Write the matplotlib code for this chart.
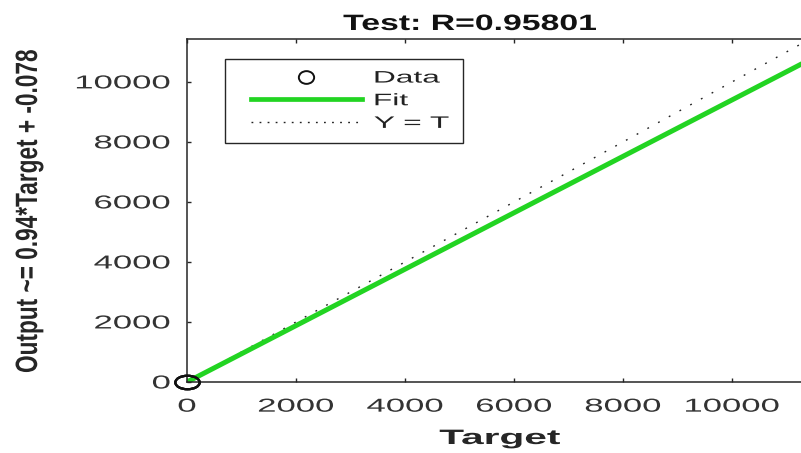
import matplotlib
matplotlib.use("Agg")
import numpy as np
import matplotlib.pyplot as plt
from matplotlib.patheffects import AbstractPathEffect
from matplotlib.transforms import Affine2D
from matplotlib.path import Path
from matplotlib.lines import Line2D
from matplotlib.legend_handler import HandlerLine2D

# chart values
title = "Test: R=0.95801"
slope = 0.94
intercept = -0.078
target = [0.0, 4.0, 9.0]
output = [0.0, 3.5, 8.0]
line_x = [0.0, 11430.0]
ticks = [0, 2000, 4000, 6000, 8000, 10000]
axis_max = 11430
labels = ["Data", "Fit", "Y = T"]


class Stretch(AbstractPathEffect):
    """Widen glyphs of a text (the reference image is stretched sideways)."""

    def __init__(self, sx=1.0, sy=1.0, anchor="center"):
        super().__init__()
        self.sx, self.sy, self.anchor = sx, sy, anchor

    def draw_path(self, renderer, gc, tpath, affine, rgbFace=None):
        if len(tpath.vertices) == 0:
            return
        ext = tpath.get_extents()
        px = {"left": ext.x0, "center": (ext.x0 + ext.x1) / 2, "right": ext.x1}[self.anchor]
        py = (ext.y0 + ext.y1) / 2
        t = Affine2D().translate(-px, -py).scale(self.sx, self.sy).translate(px, py)
        renderer.draw_path(gc, tpath, t + affine, rgbFace)


plt.rcParams["font.family"] = ["Liberation Sans", "DejaVu Sans"]
W, H = 801, 453
fig = plt.figure(figsize=(W / 100, H / 100), dpi=100)
ax = fig.add_axes([187 / W, (H - 382) / H, 623 / W, 343 / H])

fit_y = [slope * x + intercept for x in line_x]

ell = Path.unit_circle()
data_marker = Path(ell.vertices * [1.8, 1.0], ell.codes)
legend_marker = Path(ell.vertices * [1.2, 1.0], ell.codes)

green = "#22d422"
ax.plot(line_x, line_x, color="#222222", lw=1.0, ls=(0, (1.3, 7.5)))
ax.plot(line_x, fit_y, color=green, lw=3.6, solid_capstyle="butt")
ax.plot(target, output, ls="none", marker=data_marker, ms=17.5,
        mfc="none", mec="#111111", mew=1.6, clip_on=False, zorder=5)

ax.set_xlim(0, axis_max)
ax.set_ylim(0, axis_max)
ax.set_xticks(ticks)
ax.set_yticks(ticks)
ax.tick_params(direction="in", length=3, width=1, top=True, right=True,
               labelsize=13.5, pad=12, labelcolor="#333333", color="#262626")
for s in ax.spines.values():
    s.set_color("#262626")
    s.set_linewidth(1.1)

for lab in ax.get_xticklabels():
    lab.set_path_effects([Stretch(1.85, 1.0, "center")])
for lab in ax.get_yticklabels():
    lab.set_path_effects([Stretch(1.85, 1.0, "right")])

handles = [
    Line2D([], [], ls="none", marker=legend_marker, ms=11, mfc="none", mec="#111111", mew=1.4),
    Line2D([], [], color=green, lw=3.4),
    Line2D([], [], color="#222222", lw=1.0, ls=(0, (1.3, 4.5))),
]
leg = ax.legend(handles, labels, loc="upper left", mode="expand",
                bbox_to_anchor=(0.061, 0.70, 0.382, 0.242), borderaxespad=0,
                fontsize=12, handlelength=7.5, handletextpad=0.75, borderpad=0.7,
                labelspacing=0.46, fancybox=False, framealpha=1,
                handler_map={Line2D: HandlerLine2D(xpad=0.84)})
leg.get_frame().set_edgecolor("#262626")
leg.get_frame().set_linewidth(1.0)
for t in leg.get_texts():
    t.set_color("#222222")
    t.set_path_effects([Stretch(1.9, 1.0, "left")])

fig.text(470 / W, 1 - 30 / H, title, ha="center", va="baseline", fontsize=16,
         fontweight="bold", color="#111111", path_effects=[Stretch(1.52)])
fig.text(500 / W, 1 - 444 / H, "Target", ha="center", va="baseline", fontsize=15,
         fontweight="bold", color="#262626", path_effects=[Stretch(1.95)])
fig.text(28.5 / W, 1 - 211.5 / H, f"Output ~= {slope}*Target + {intercept}",
         rotation=90, ha="center", va="center", fontsize=16.3, fontweight="bold",
         color="#262626", path_effects=[Stretch(1.0, 1.36)])

fig.savefig("out.png", dpi=100)
